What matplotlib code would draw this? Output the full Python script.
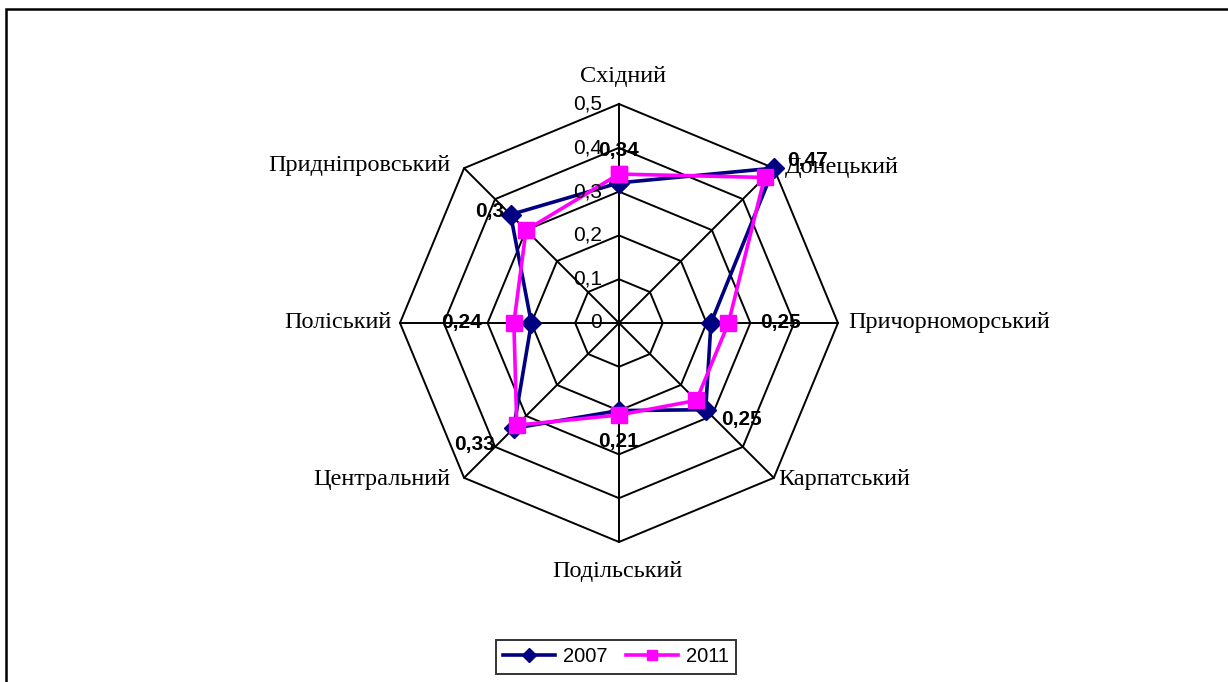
import numpy as np
import matplotlib
matplotlib.use("Agg")
import matplotlib.pyplot as plt
from matplotlib.patches import Rectangle

# data
regions = ["Східний", "Донецький", "Причорноморський", "Карпатський",
           "Подільський", "Центральний", "Поліський", "Придніпровський"]
vals_2007 = [0.32, 0.50, 0.21, 0.28, 0.20, 0.34, 0.20, 0.35]
vals_2011 = [0.34, 0.47, 0.25, 0.25, 0.21, 0.33, 0.24, 0.30]
label_2011 = ["0,34", "0,47", "0,25", "0,25", "0,21", "0,33", "0,24", "0,3"]
ticks = [0, 0.1, 0.2, 0.3, 0.4, 0.5]
tick_labels = ["0", "0,1", "0,2", "0,3", "0,4", "0,5"]

serif = "Liberation Serif"
sans = "Liberation Sans"

fig = plt.figure(figsize=(12.28, 6.82), dpi=100)
ax = fig.add_axes([0.3257, 0.2053, 0.3567, 0.6422], projection="polar")
ax.set_theta_zero_location("N")
ax.set_theta_direction(-1)
ax.set_ylim(0, 0.5)
ax.grid(False)
ax.set_xticks([])
ax.set_yticks([])
ax.spines["polar"].set_visible(False)
ax.patch.set_alpha(0)

n = len(regions)
theta = np.arange(n) * 2 * np.pi / n
closed = np.append(theta, theta[0])

# octagon grid
for r in ticks[1:]:
    ax.plot(closed, [r] * (n + 1), color="black", lw=1.4, zorder=1, clip_on=False)
for t in theta:
    ax.plot([t, t], [0, 0.5], color="black", lw=1.4, zorder=1, clip_on=False)

ax.plot(closed, vals_2007 + vals_2007[:1], color="#000080", lw=2.6,
        marker="D", markersize=10.5, zorder=3, label="2007", clip_on=False)
ax.plot(closed, vals_2011 + vals_2011[:1], color="#FF00FF", lw=2.6,
        marker="s", markersize=11, zorder=4, label="2011", clip_on=False)

# radial tick labels
for r, lab in zip(ticks, tick_labels):
    ax.annotate(lab, (0, r), xytext=(-17, 0), textcoords="offset pixels",
                ha="right", va="center", fontsize=15, family=sans, zorder=5)

# data labels (2011)
lab_off = [(0, 24), (43, 17), (52, 0), (45, -19), (0, -27), (-42, -19), (-52, 0), (-36, 19)]
for t, v, lab, off in zip(theta, vals_2011, label_2011, lab_off):
    ax.annotate(lab, (t, v), xytext=off, textcoords="offset pixels",
                ha="center", va="center", fontsize=15, fontweight="bold",
                family=sans, zorder=6)

# category labels
cat_off = [(4, 28, "center"), (11, 1, "left"), (10, 0, "left"), (4, -2, "left"),
           (-2, -30, "center"), (-14, -2, "right"), (-8, 0, "right"), (-14, 3, "right")]
for t, name, (dx, dy, ha) in zip(theta, regions, cat_off):
    ax.annotate(name, (t, 0.5), xytext=(dx, dy), textcoords="offset pixels",
                ha=ha, va="center", fontsize=17.5, family=serif, zorder=5)

leg = fig.legend(loc="center", bbox_to_anchor=(616 / 1228, 1 - 657 / 682), ncol=2,
                 frameon=True, fancybox=False, edgecolor="black", handlelength=2.6,
                 columnspacing=0.9, handletextpad=0.4, borderpad=0.35,
                 markerscale=0.7, prop={"family": sans, "size": 14.5})
leg.get_frame().set_linewidth(1.4)

# outer frame (extends past right/bottom edges)
fig.patches.append(Rectangle((6 / 1228, -0.05), 1.2, 1 - 9 / 682 + 0.05,
                             transform=fig.transFigure, fill=False,
                             edgecolor="black", lw=1.8))

fig.savefig("out.png", dpi=100)
